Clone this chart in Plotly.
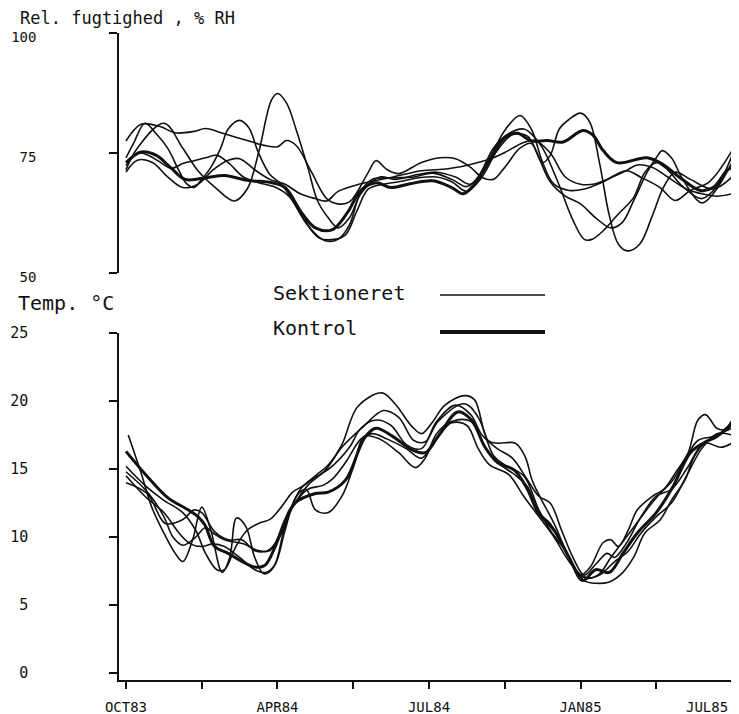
import plotly.graph_objects as go

# x positions are in axis-tick units (0 = OCT83 ... 8 = JUL85)
tick_positions = [0, 1, 2, 3, 4, 5, 6, 7, 8]
tick_labels = ["OCT83", "", "APR84", "", "JUL84", "", "JAN85", "", ""]
last_label = "JUL85"          # drawn left-shifted, as in the plotter original
last_label_pos = 7.67
rh_ticks = [50, 75, 100]
temp_ticks = [0, 5, 10, 15, 20, 25]

# Relative humidity (% RH) - Kontrol (thick) and Sektioneret (thin)
rh_kontrol = [(0,73),(0.2,75.2),(0.4,74.5),(0.6,71.8),(0.78,69.5),(1.08,69.9),(1.3,70.3),(1.6,69.3),(1.93,68.8),(2.1,67.8),(2.32,62.5),(2.5,59.4),(2.72,59),(2.92,62.5),(3.1,67.2),(3.3,68.8),(3.5,67.8),(3.75,68.6),(4.05,69.2),(4.3,67.8),(4.45,66.5),(4.6,68.5),(4.8,73.4),(5.0,78.2),(5.17,79.1),(5.35,77.5),(5.56,77.6),(5.77,77.3),(6.03,79.7),(6.16,78.8),(6.3,75.5),(6.48,73),(6.88,74),(7.1,72.5),(7.31,69.9),(7.58,67.2),(7.75,67.8),(7.93,71.3),(8.0,72)]
rh_sek1 = [(0,71.5),(0.15,76),(0.5,81.2),(0.75,76),(0.95,71.3),(1.18,67.8),(1.43,65),(1.6,67.5),(1.75,75),(1.92,86),(2.0,87.4),(2.12,85.4),(2.25,79.7),(2.4,72),(2.53,65),(2.67,61.5),(2.8,59.4),(2.95,61.5),(3.1,66.5),(3.35,70),(3.55,69.5),(3.85,70.5),(4.1,71),(4.35,70),(4.55,68.5),(4.8,74),(5.0,79.7),(5.2,82.8),(5.35,80),(5.5,73),(5.65,68.5),(5.85,67.2),(6.05,67.5),(6.3,69),(6.6,71.3),(6.8,69.9),(7.05,67.8),(7.25,65.1),(7.45,67.2),(7.7,69),(8.0,75.5)]
rh_sek2 = [(0,77.5),(0.2,81),(0.45,80.5),(0.65,79.2),(0.9,79.5),(1.05,80.1),(1.3,79),(1.6,77.6),(1.85,76.5),(2.0,76.3),(2.12,77.6),(2.25,76.5),(2.45,71),(2.65,65.5),(2.8,64.4),(2.95,64.8),(3.2,71),(3.3,73.4),(3.45,71.5),(3.6,70.7),(3.9,73),(4.15,74),(4.35,73.8),(4.55,72),(4.7,69.9),(4.85,69.5),(5.0,72),(5.2,76),(5.35,77),(5.5,73),(5.6,74.5),(5.72,80),(5.85,82),(6.0,83.3),(6.12,81.5),(6.25,73),(6.38,62),(6.5,56),(6.62,54.6),(6.78,56),(6.95,62),(7.1,68),(7.25,71),(7.45,69.5),(7.75,67.5),(8.0,70)]
rh_sek3 = [(0,74),(0.1,77),(0.25,81.2),(0.4,79),(0.55,76),(0.7,71.3),(0.8,68.6),(0.9,67.8),(1.0,69.5),(1.12,72),(1.25,76),(1.35,80),(1.5,81.8),(1.62,80.3),(1.75,75),(1.9,70.5),(2.05,68.5),(2.25,64),(2.45,59),(2.63,56.7),(2.8,57),(2.95,60),(3.1,67),(3.25,69.5),(3.5,69.8),(3.8,70),(4.05,70.8),(4.3,69.5),(4.5,68),(4.65,70),(4.85,76),(5.05,79),(5.25,80),(5.35,79),(5.5,76),(5.7,69),(5.9,61),(6.05,57),(6.15,57),(6.3,58.8),(6.5,62.3),(6.7,65.7),(6.85,71),(7.0,73),(7.15,71.5),(7.35,68),(7.6,65.5),(7.8,68),(8.0,74.5)]
rh_sek4 = [(0,72.4),(0.16,75),(0.3,74.5),(0.42,73.4),(0.6,71.8),(0.75,72.8),(0.9,73.4),(1.05,74),(1.2,74.5),(1.35,73),(1.55,70),(1.75,68.8),(1.95,68),(2.15,66),(2.35,61),(2.55,57.3),(2.75,57),(2.9,58),(3.05,63),(3.2,67.5),(3.4,68.5),(3.6,69),(3.85,69.8),(4.1,70),(4.3,69),(4.5,67),(4.7,70),(4.9,75.5),(5.1,78.8),(5.3,78.5),(5.45,74),(5.6,69),(5.8,66),(6.0,64.4),(6.2,61.5),(6.4,59.4),(6.55,60.5),(6.7,65),(6.88,71),(7.0,74),(7.08,75.5),(7.2,74),(7.35,69.5),(7.6,64.6),(7.75,66.5),(8.0,73)]
rh_sek5 = [(0,71),(0.15,73.5),(0.35,73),(0.55,70),(0.75,67.8),(0.95,68.5),(1.15,71.5),(1.35,73.5),(1.5,73.8),(1.7,71.5),(1.9,69.5),(2.1,68.5),(2.3,66.5),(2.5,65.5),(2.65,65),(2.8,67),(3.1,68.6),(3.5,69.9),(3.9,71.3),(4.25,71.7),(4.6,72.8),(4.85,74),(5.0,75.1),(5.25,77.2),(5.4,77.6),(5.6,75),(5.8,70),(6.0,68.5),(6.2,68.6),(6.35,69.5),(6.6,71.3),(6.75,72.5),(6.95,72),(7.15,70),(7.4,67.5),(7.6,66.5),(7.8,66),(8.0,66.5)]

# Temperature (deg C)
t_kontrol = [(0,16.3),(0.29,14.4),(0.55,12.9),(0.82,12),(0.95,11.5),(1.04,10.9),(1.17,9.3),(1.35,8.8),(1.53,8.2),(1.7,7.8),(1.83,7.9),(1.97,9.3),(2.1,11.2),(2.23,12.5),(2.5,13.2),(2.67,13.3),(2.9,14.2),(3.15,17.3),(3.3,18),(3.52,17.4),(3.78,16.4),(3.95,16.2),(4.12,17.4),(4.38,19.2),(4.56,18.6),(4.74,16.6),(4.9,15.5),(5.13,14.9),(5.3,13.5),(5.44,11.8),(5.65,10.5),(5.85,8.5),(6.03,6.8),(6.2,7.6),(6.38,7.4),(6.56,8.8),(6.75,10.3),(7.0,11.8),(7.22,13.7),(7.45,16.2),(7.62,16.9),(7.8,17.4),(7.95,18.1),(8.0,18.5)]
t_sek1 = [(0.03,17.5),(0.2,14.7),(0.34,12.2),(0.5,10.3),(0.65,8.8),(0.75,8.2),(0.88,9.8),(1.0,12.2),(1.12,10.5),(1.27,7.4),(1.37,8.5),(1.46,11.4),(1.58,10.8),(1.7,8.5),(1.82,7.3),(1.95,7.8),(2.1,10.8),(2.3,13.5),(2.5,14.5),(2.67,15.3),(2.85,16.8),(3.06,19.6),(3.38,20.6),(3.55,19.8),(3.78,18.1),(3.9,17.6),(4.04,18.4),(4.21,19.7),(4.47,20.4),(4.6,20.1),(4.78,17.1),(4.91,16.9),(5.14,16.9),(5.27,15.9),(5.36,14.2),(5.47,12.9),(5.65,11),(5.85,8.5),(6.0,7.2),(6.13,7.8),(6.3,9.6),(6.4,9.8),(6.5,9.3),(6.63,10.5),(6.75,12),(6.95,13),(7.1,13.5),(7.25,14.7),(7.42,16.2),(7.55,18.6),(7.65,19),(7.8,18),(7.9,17.9),(8.0,18.5)]
t_sek2 = [(0,14.8),(0.3,13.2),(0.5,11.5),(0.62,10),(0.75,9.4),(0.92,10),(1.05,10.7),(1.15,10.3),(1.3,9.8),(1.55,9.5),(1.75,9),(1.9,9),(2.05,10.5),(2.2,12.2),(2.4,13.8),(2.63,14.9),(2.85,16.6),(3.13,18.1),(3.4,19.3),(3.6,18.8),(3.8,17.1),(3.95,17),(4.12,18.5),(4.47,19.8),(4.65,18.8),(4.85,16),(5.0,15.3),(5.25,14.5),(5.45,12),(5.6,10.5),(5.8,9),(5.95,7.5),(6.1,7.0),(6.25,7.3),(6.4,8.5),(6.55,9.6),(6.7,10.7),(6.9,12.2),(7.05,13.2),(7.22,14.2),(7.4,15.9),(7.55,17.1),(7.75,17.4),(8.0,18)]
t_sek3 = [(0,14.0),(0.28,13.2),(0.52,11.0),(0.74,11.25),(0.9,12),(1.0,11.8),(1.17,10.4),(1.35,9.8),(1.53,9.8),(1.7,9.0),(1.87,9),(2.05,10.2),(2.2,12.2),(2.4,13.5),(2.6,13.8),(2.73,14.3),(2.9,15.5),(3.1,17.2),(3.25,17.6),(3.45,17.2),(3.7,16.5),(3.9,15.8),(4.1,17.2),(4.3,18.4),(4.5,18.2),(4.65,16.5),(4.8,15.3),(5.05,14.6),(5.25,13),(5.45,11.5),(5.65,10),(5.85,8.2),(6.05,7.0),(6.25,7.2),(6.45,8.2),(6.62,8.9),(6.8,10.3),(7.0,11.5),(7.2,12.5),(7.4,14.5),(7.6,16.5),(7.8,17.6),(8.0,17.5)]
t_sek4 = [(0,14.5),(0.25,13),(0.5,11.8),(0.7,10.3),(0.85,9.5),(1.0,9.3),(1.15,9.5),(1.3,9.3),(1.5,8.5),(1.7,7.6),(1.85,7.4),(1.97,8),(2.1,10.5),(2.25,13),(2.38,13.5),(2.5,12.0),(2.67,11.8),(2.85,13),(3.0,15.1),(3.15,17.4),(3.35,17.2),(3.6,16.2),(3.82,15.1),(3.95,15.8),(4.1,17.6),(4.3,18.5),(4.55,18.5),(4.74,16.6),(4.9,15.5),(5.15,14.5),(5.3,13.7),(5.45,11.8),(5.6,11.0),(5.75,9.5),(5.9,8.0),(6.05,6.8),(6.2,6.6),(6.38,6.7),(6.55,7.35),(6.7,8.5),(6.85,10.3),(7.05,11.25),(7.2,12.7),(7.38,14.2),(7.5,15.9),(7.65,16.9),(7.85,16.6),(8.0,16.9)]
t_sek5 = [(0,15.2),(0.25,13.8),(0.5,12.7),(0.75,11.8),(0.92,10.5),(1.05,8.8),(1.2,7.6),(1.3,7.6),(1.45,9.3),(1.6,10.5),(1.75,11.0),(1.9,11.3),(2.05,12.2),(2.2,13.3),(2.35,13.8),(2.5,14.4),(2.7,15.1),(2.95,16.6),(3.1,18.0),(3.3,18.6),(3.5,18.2),(3.7,16.8),(3.9,16.5),(4.1,18.5),(4.35,19.7),(4.55,19.0),(4.7,17.5),(4.9,16.5),(5.1,15.8),(5.3,14.2),(5.45,13),(5.6,12.5),(5.75,10.5),(5.9,8.5),(6.05,7.2),(6.2,8.0),(6.35,8.8),(6.45,8.5),(6.6,9.5),(6.8,11.5),(7.0,13.0),(7.2,13.5),(7.4,15),(7.6,16.8),(7.8,17.4),(8.0,18.2)]

FONT = "DejaVu Sans Mono"
INK = "#111111"

fig = go.Figure()

def add(series, xa, ya, width, name):
    xs = [p[0] for p in series]
    ys = [p[1] for p in series]
    fig.add_trace(go.Scatter(x=xs, y=ys, xaxis=xa, yaxis=ya, mode="lines", name=name,
                             line=dict(color=INK, width=width, shape="spline", smoothing=1.0),
                             showlegend=False, hoverinfo="skip"))

for s in [rh_sek1, rh_sek2, rh_sek3, rh_sek4, rh_sek5]:
    add(s, "x", "y", 1.6, "Sektioneret")
add(rh_kontrol, "x", "y", 3.0, "Kontrol")
for s in [t_sek1, t_sek2, t_sek3, t_sek4, t_sek5]:
    add(s, "x2", "y2", 1.6, "Sektioneret")
add(t_kontrol, "x2", "y2", 3.0, "Kontrol")

xr = [-0.092, 8.092]
axis_common = dict(showline=True, linecolor=INK, linewidth=1.5, ticks="outside",
                   tickcolor=INK, tickwidth=1.5, showgrid=False, zeroline=False,
                   automargin=False)

# the page adds an 8px body margin, so the figure is offset by (8, 8) in the window
fig.update_layout(
    width=739, height=714,
    margin=dict(l=111, r=8, t=25, b=42),
    paper_bgcolor="white", plot_bgcolor="white",
    xaxis=dict(domain=[0, 1], range=xr, anchor="y", visible=False, automargin=False),
    yaxis=dict(domain=[0.6291, 1], range=[50, 100], tickvals=rh_ticks, ticklen=8,
               ticklabelstandoff=70, ticklabelshift=4,
               tickfont=dict(family=FONT, size=14, color=INK), **axis_common),
    xaxis2=dict(domain=[0, 1], range=xr, anchor="y2", tickvals=tick_positions,
                ticktext=tick_labels, ticklen=7, ticklabelstandoff=6,
                tickfont=dict(family=FONT, size=14, color=INK), **axis_common),
    yaxis2=dict(domain=[0, 0.5363], range=[-0.51, 25], tickvals=temp_ticks, ticklen=8,
                ticklabelstandoff=78, tickfont=dict(family=FONT, size=15, color=INK),
                **axis_common),
)

def px_x(px):
    return (px - 119) / 620.0

def px_y(py):
    return (680 - py) / 647.0

# last x tick label (left-shifted so it stays inside the page, like the original)
fig.add_annotation(text=last_label, xref="x2", yref="paper", x=last_label_pos, y=px_y(707),
                   xanchor="center", yanchor="middle", showarrow=False,
                   font=dict(family=FONT, size=14, color=INK))

texts = [("Rel. fugtighed , % RH", 18, 18, 17), ("Temp. °C", 16, 303, 20),
         ("Sektioneret", 271, 293, 20), ("Kontrol", 271, 328, 20)]
for txt, x0, y0, fs in texts:
    fig.add_annotation(text=txt, xref="paper", yref="paper", x=px_x(x0), y=px_y(y0),
                       xanchor="left", yanchor="middle", showarrow=False,
                       font=dict(family=FONT, size=fs, color=INK))

fig.add_shape(type="line", xref="paper", yref="paper", x0=px_x(440), x1=px_x(545),
              y0=px_y(295), y1=px_y(295), line=dict(color=INK, width=1.6))
fig.add_shape(type="line", xref="paper", yref="paper", x0=px_x(440), x1=px_x(545),
              y0=px_y(332), y1=px_y(332), line=dict(color=INK, width=4))

fig.write_html("out.html")
